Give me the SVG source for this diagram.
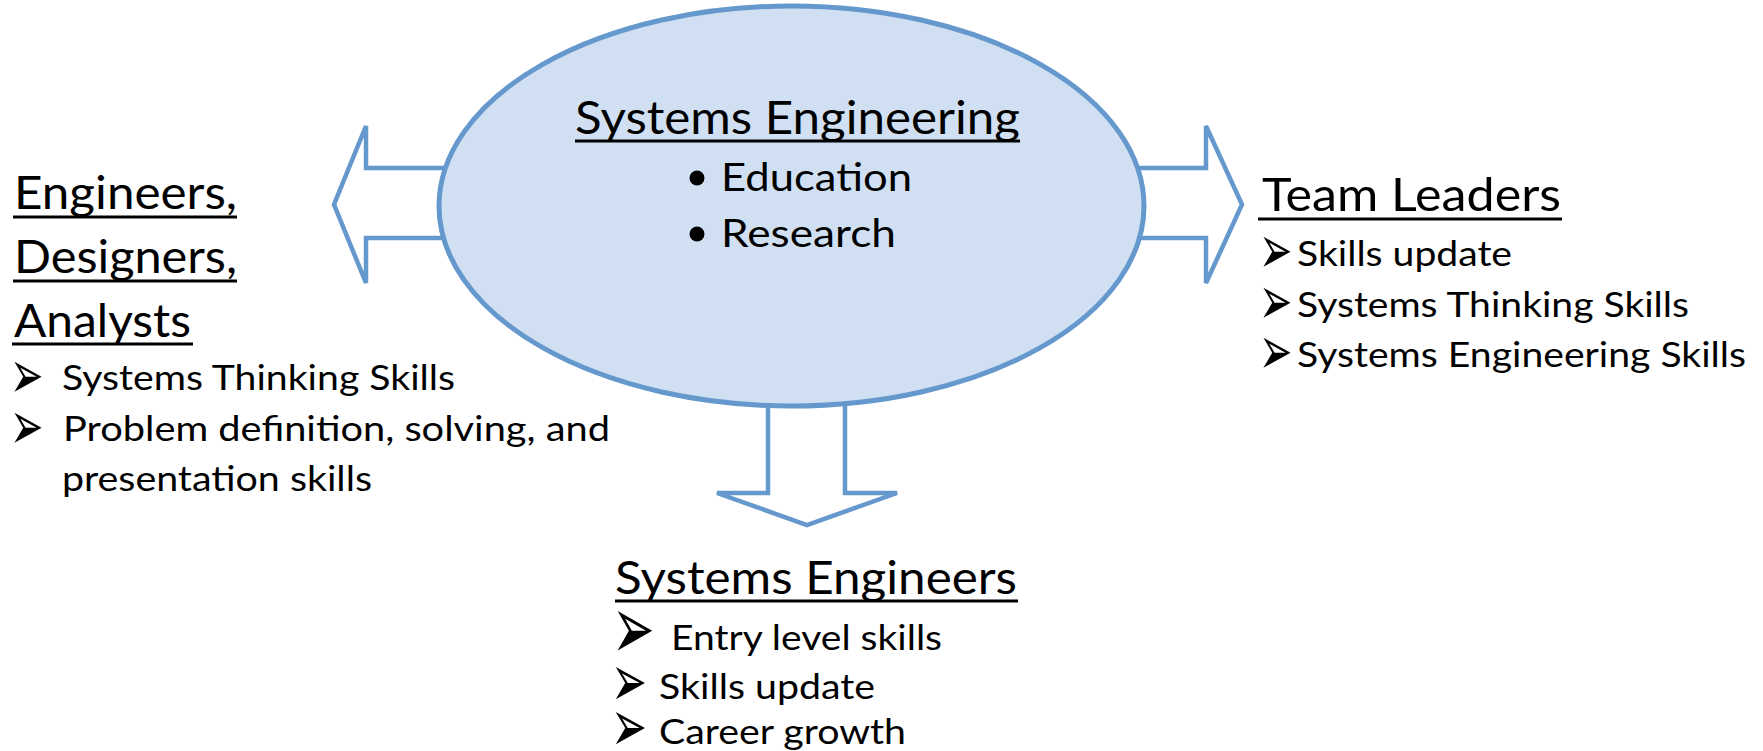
<svg xmlns="http://www.w3.org/2000/svg" width="1763" height="751" viewBox="0 0 1763 751">
<style>
.bg{fill:#ffffff}
.arrow{fill:#ffffff;stroke:#6598cd;stroke-width:4.5;stroke-linejoin:miter}
.ell{fill:#d0e0f2;stroke:#6598cd;stroke-width:5}
.ul{stroke:#000000;stroke-width:3}
text{font-family:Lato,"Open Sans","Liberation Sans",sans-serif;fill:#000000}
.h{font-size:46px}
.b{font-size:39px}
.l{font-size:35px}
.blt{font-family:"DejaVu Sans",sans-serif;font-size:40px}
.blt2{font-family:"DejaVu Sans",sans-serif;font-size:51px}
.blt3{font-family:"DejaVu Sans",sans-serif;font-size:43px}
</style>
<rect class="bg" x="0" y="0" width="1763" height="751"/>
<g id="connectors">
<polygon class="arrow" points="470,168 366,168 366,126 334,204.5 366,283 366,238 470,238"/>
<polygon class="arrow" points="1110,168 1206,168 1206,126 1242,204.5 1206,283 1206,238 1110,238"/>
<polygon class="arrow" points="768,350 768,493 717,493 807,525 897,493 845,493 845,350"/>
</g>
<g id="center">
<ellipse class="ell" cx="791.5" cy="206" rx="352.5" ry="200"/>
<text class="h" x="575" y="134" textLength="445" lengthAdjust="spacingAndGlyphs">Systems Engineering</text>
<line class="ul" x1="575" y1="141" x2="1020" y2="141"/>
<circle cx="697" cy="178" r="7.5" fill="#000"/>
<text class="b" x="721" y="191" textLength="191" lengthAdjust="spacingAndGlyphs">Education</text>
<circle cx="697" cy="234" r="7.5" fill="#000"/>
<text class="b" x="721" y="247" textLength="175" lengthAdjust="spacingAndGlyphs">Research</text>
</g>
<g id="left">
<text class="h" x="14" y="209" textLength="223" lengthAdjust="spacingAndGlyphs">Engineers,</text>
<line class="ul" x1="13" y1="217" x2="237" y2="217"/>
<text class="h" x="14" y="273" textLength="223" lengthAdjust="spacingAndGlyphs">Designers,</text>
<line class="ul" x1="13" y1="281" x2="237" y2="281"/>
<text class="h" x="14" y="337" textLength="177" lengthAdjust="spacingAndGlyphs">Analysts</text>
<line class="ul" x1="12" y1="344" x2="193" y2="344"/>
<text class="blt" transform="translate(10,398) scale(1,1.7)">➢</text>
<text class="l" x="62" y="390" textLength="393" lengthAdjust="spacingAndGlyphs">Systems Thinking Skills</text>
<text class="blt" transform="translate(10,449) scale(1,1.7)">➢</text>
<text class="l" x="63" y="441" textLength="547" lengthAdjust="spacingAndGlyphs">Problem definition, solving, and</text>
<text class="l" x="62" y="491" textLength="310" lengthAdjust="spacingAndGlyphs">presentation skills</text>
</g>
<g id="right">
<text class="h" x="1262" y="211" textLength="299" lengthAdjust="spacingAndGlyphs">Team Leaders</text>
<line class="ul" x1="1258" y1="219" x2="1562" y2="219"/>
<text class="blt" transform="translate(1259,273) scale(1,1.7)">➢</text>
<text class="l" x="1297" y="266" textLength="215" lengthAdjust="spacingAndGlyphs">Skills update</text>
<text class="blt" transform="translate(1259,324) scale(1,1.7)">➢</text>
<text class="l" x="1297" y="317" textLength="392" lengthAdjust="spacingAndGlyphs">Systems Thinking Skills</text>
<text class="blt" transform="translate(1259,374) scale(1,1.7)">➢</text>
<text class="l" x="1297" y="367" textLength="449" lengthAdjust="spacingAndGlyphs">Systems Engineering Skills</text>
</g>
<g id="bottom">
<text class="h" x="615" y="594" textLength="402" lengthAdjust="spacingAndGlyphs">Systems Engineers</text>
<line class="ul" x1="615" y1="601" x2="1018" y2="601"/>
<text class="blt2" transform="translate(612,659) scale(1,1.77)">➢</text>
<text class="l" x="671" y="650" textLength="271" lengthAdjust="spacingAndGlyphs">Entry level skills</text>
<text class="blt3" transform="translate(611,706) scale(1,1.7)">➢</text>
<text class="l" x="659" y="699" textLength="216" lengthAdjust="spacingAndGlyphs">Skills update</text>
<text class="blt3" transform="translate(611,751) scale(1,1.7)">➢</text>
<text class="l" x="659" y="744" textLength="247" lengthAdjust="spacingAndGlyphs">Career growth</text>
</g>
</svg>
